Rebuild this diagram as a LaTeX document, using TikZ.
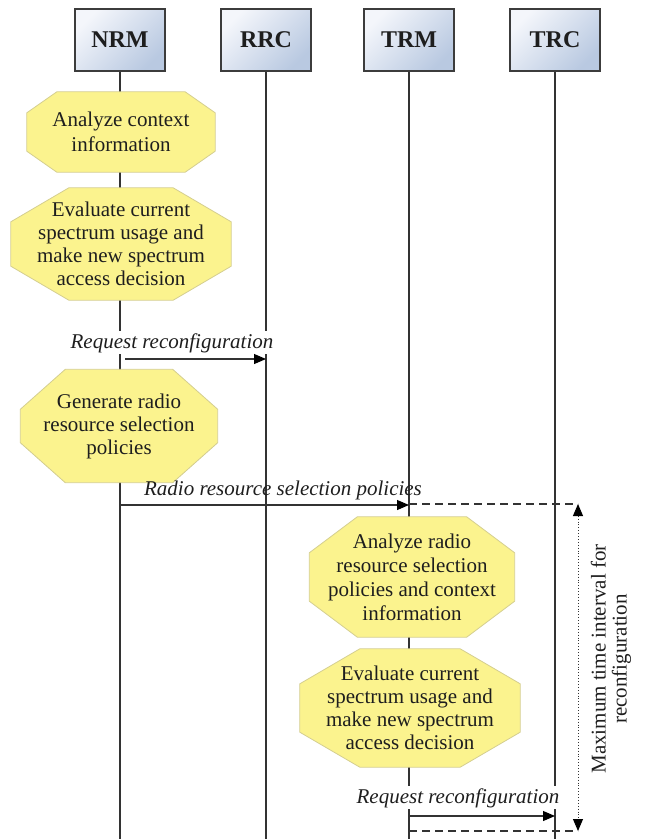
\documentclass[tikz,border=0pt]{standalone}
\usepackage{fontspec}
\setmainfont{Liberation Serif}
\usetikzlibrary{arrows.meta,calc}

\pgfdeclarelayer{bg}
\pgfdeclarelayer{mid}
\pgfsetlayers{bg,mid,main}

\definecolor{hdrline}{HTML}{3C3C3C}
\definecolor{hdrlight}{HTML}{F4F6FB}
\definecolor{hdrdark}{HTML}{B9C9E1}
\definecolor{actfill}{HTML}{FBF38E}
\definecolor{actline}{HTML}{D4CE90}
\definecolor{ink}{HTML}{1E1E1E}
\definecolor{wire}{HTML}{333333}

\tikzset{
  hdr/.style={draw=hdrline, line width=1.3pt, minimum width=90pt, minimum height=62pt,
    top color=hdrlight, bottom color=hdrdark, shading angle=45,
    font=\fontsize{24}{26}\selectfont\bfseries, text=ink},
  life/.style={draw=wire, line width=1.1pt},
  act/.style 2 args={minimum width=#1pt, minimum height=#2pt, inner sep=0pt,
    align=center, font=\fontsize{21}{23}\selectfont, text=ink},
  octo/.style={fill=actfill, draw=actline, line width=0.8pt},
  msg/.style={draw=wire, line width=1.1pt,
    -{Triangle[length=12pt,width=10pt,color=black]}},
  lbl/.style={font=\fontsize{21}{23}\selectfont\itshape, text=ink, inner sep=2pt},
  bound/.style={draw=wire, line width=1.1pt, dash pattern=on 8pt off 5pt},
  span/.style={draw=wire, line width=0.9pt, dotted,
    {Triangle[length=12pt,width=10pt,color=black]}-{Triangle[length=12pt,width=10pt,color=black]}}
}

% octagonal frame around an activity node: node name, corner cut x, corner cut y
\newcommand{\octframe}[3]{%
  \begin{pgfonlayer}{mid}
    \path[octo] ($(#1.north west)+(#2,0)$) -- ($(#1.north east)+(-#2,0)$)
      -- ($(#1.north east)+(0,#3)$) -- ($(#1.south east)+(0,-#3)$)
      -- ($(#1.south east)+(-#2,0)$) -- ($(#1.south west)+(#2,0)$)
      -- ($(#1.south west)+(0,-#3)$) -- ($(#1.north west)+(0,#3)$) -- cycle;
  \end{pgfonlayer}}

\begin{document}
\begin{tikzpicture}[x=1pt, y=-1pt]
  \useasboundingbox (0,0) rectangle (646,839);

  % participants
  \node[hdr] (nrm) at (120,40) {NRM};
  \node[hdr] (rrc) at (266,40) {RRC};
  \node[hdr] (trm) at (409,40) {TRM};
  \node[hdr] (trc) at (555,40) {TRC};

  % lifeline ends
  \coordinate (nrmE) at (120,839);
  \coordinate (rrcE) at (266,839);
  \coordinate (trmE) at (409,839);
  \coordinate (trcE) at (555,839);

  \begin{pgfonlayer}{bg}
    \draw[life] (nrm) -- (nrmE);
    \draw[life] (rrc) -- (rrcE);
    \draw[life] (trm) -- (trmE);
    \draw[life] (trc) -- (trcE);
  \end{pgfonlayer}

  % activities
  \node[act={188}{80}, font=\fontsize{21}{25}\selectfont] (a1) at (121,132)
    {Analyze context\\information};
  \octframe{a1}{30}{21}
  \node[act={220}{112}] (a2) at (121,244)
    {Evaluate current\\spectrum usage and\\make new spectrum\\access decision};
  \octframe{a2}{58}{34}
  \node[act={197}{113}] (a3) at (119,426)
    {Generate radio\\resource selection\\policies};
  \octframe{a3}{45}{40}
  \node[act={205}{120}, font=\fontsize{21}{24}\selectfont] (a4) at (412,577)
    {Analyze radio\\resource selection\\policies and context\\information};
  \octframe{a4}{48}{36}
  \node[act={220}{118}] (a5) at (410,708)
    {Evaluate current\\spectrum usage and\\make new spectrum\\access decision};
  \octframe{a5}{60}{35}

  % messages
  \node[lbl, fill=white, anchor=base] (l1) at (172,348) {Request reconfiguration};
  \coordinate (m1a) at (125,359);
  \coordinate (m1b) at (266,359);
  \draw[msg] (m1a) -- (m1b);

  \node[lbl, anchor=base] (l2) at (283,495) {Radio resource selection policies};
  \coordinate (m2a) at (120,505);
  \coordinate (m2b) at (409,505);
  \draw[msg] (m2a) -- (m2b);

  \node[lbl, fill=white, anchor=base] (l3) at (458,803) {Request reconfiguration};
  \coordinate (m3a) at (409,816);
  \coordinate (m3b) at (555,816);
  \draw[msg] (m3a) -- (m3b);

  % reconfiguration interval
  \coordinate (t0) at (409,504);
  \coordinate (t0r) at (578,504);
  \coordinate (t1) at (409,831);
  \coordinate (t1r) at (578,831);
  \draw[bound] (t0) -- (t0r);
  \draw[bound] (t1) -- (t1r);
  \draw[span] (t0r) -- (t1r);
  \node[rotate=90, align=center, font=\fontsize{21}{21}\selectfont, text=ink]
    (iv) at (611,659) {Maximum time interval for\\reconfiguration};
\end{tikzpicture}
\end{document}
